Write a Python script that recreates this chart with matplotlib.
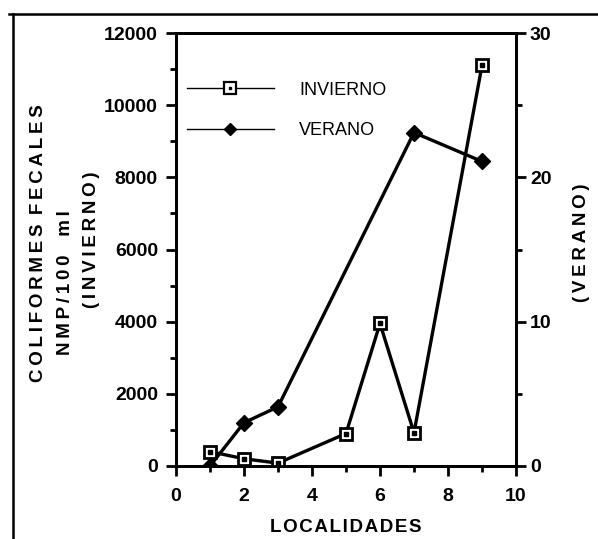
import matplotlib
matplotlib.use("Agg")
import matplotlib.pyplot as plt
from matplotlib.lines import Line2D
from matplotlib.legend_handler import HandlerTuple
from matplotlib.ticker import MultipleLocator

plt.rcParams['font.family'] = ['Liberation Sans', 'DejaVu Sans']

# Data
invierno_x = [1, 2, 3, 5, 6, 7, 9]
invierno_y = [400, 200, 80, 900, 3950, 920, 11100]
verano_x = [1, 2, 3, 7, 9]
verano_y = [0, 3.0, 4.1, 23.1, 21.1]

xticks = [0, 2, 4, 6, 8, 10]
yticks_left = [0, 2000, 4000, 6000, 8000, 10000, 12000]
yticks_right = [0, 10, 20, 30]

W, H = 598, 539
fig = plt.figure(figsize=(W / 100, H / 100), dpi=100)
ax = fig.add_axes([176 / W, 1 - 466 / H, (516 - 176) / W, (466 - 33) / H])
ax2 = ax.twinx()

lw = 2.4
ax.plot(invierno_x, invierno_y, color='black', lw=lw, marker='s', ms=9,
        mfc='white', mec='black', mew=2.0, zorder=3)
ax.plot(invierno_x, invierno_y, ls='none', marker='s', ms=2.5, color='black', zorder=4)
ax2.plot(verano_x, verano_y, color='black', lw=lw, marker='D', ms=8,
         mfc='black', mec='black', zorder=3)

ax.set_xlim(0, 10)
ax.set_ylim(0, 12000)
ax2.set_ylim(0, 30)
ax.set_xticks(xticks)
ax.set_yticks(yticks_left)
ax2.set_yticks(yticks_right)
ax.xaxis.set_minor_locator(MultipleLocator(1))
ax.yaxis.set_minor_locator(MultipleLocator(1000))
ax2.yaxis.set_minor_locator(MultipleLocator(5))

tickfont = dict(fontsize=14, fontweight='bold')
ax.set_xticklabels([str(t) for t in xticks], **tickfont)
ax.set_yticklabels([str(t) for t in yticks_left], **tickfont)
ax2.set_yticklabels([str(t) for t in yticks_right], **tickfont)

for a in (ax, ax2):
    for s in a.spines.values():
        s.set_linewidth(2.0)
ax.tick_params(axis='x', which='major', direction='out', length=7, width=2, pad=9)
ax.tick_params(axis='y', which='major', direction='out', length=7, width=2, pad=6)
ax.tick_params(axis='both', which='minor', direction='out', length=4, width=2)
ax2.tick_params(axis='y', which='major', direction='out', length=7, width=2, pad=3)
ax2.tick_params(axis='y', which='minor', direction='out', length=4, width=2)

def spaced(s, sep='\u2009'):
    return sep.join(s)

lab = dict(fontsize=13.5, fontweight='bold', family=['Liberation Sans', 'DejaVu Sans'])
fig.text((176 + 516) / 2 / W, 1 - 527 / H, spaced('LOCALIDADES', '\u200a'),
         ha='center', va='center', **lab)
fig.text(39 / W, 1 - 243 / H, spaced('COLIFORMES') + '\u2002' + spaced('FECALES'),
         rotation=90, ha='center', va='center', **lab)
fig.text(65 / W, 1 - 283 / H, spaced('NMP/100') + '\u2003' + spaced('ml'),
         rotation=90, ha='center', va='center', **lab)
fig.text(92 / W, 1 - 240 / H, spaced('(INVIERNO)'),
         rotation=90, ha='center', va='center', **lab)
fig.text(582 / W, 1 - 243 / H, spaced('(VERANO)'),
         rotation=90, ha='center', va='center', **lab)

# Legend
h_inv = (Line2D([], [], color='black', lw=1.0),
         Line2D([], [], ls='none', marker='s', ms=8, mfc='white', mec='black', mew=1.6),
         Line2D([], [], ls='none', marker='s', ms=2, color='black'))
h_ver = Line2D([], [], color='black', lw=1.0, marker='D', ms=6, mfc='black', mec='black')
leg = ax.legend([h_inv, h_ver], ['INVIERNO', 'VERANO'],
                handler_map={tuple: HandlerTuple(ndivide=1, pad=0)},
                loc='upper left', bbox_to_anchor=(-0.015, 0.925), frameon=False,
                handlelength=4.8, handletextpad=1.4, labelspacing=1.3,
                prop={'family': ['Liberation Sans Narrow', 'Liberation Sans'], 'size': 13})

# Outer frame (left and top lines)
fig.add_artist(Line2D([13 / W, 13 / W], [0, 1 - 14 / H], color='black', lw=1.8,
                      transform=fig.transFigure))
fig.add_artist(Line2D([9 / W, 1.0], [1 - 14 / H, 1 - 14 / H], color='black', lw=1.8,
                      transform=fig.transFigure))

fig.savefig('out.png', dpi=100)
